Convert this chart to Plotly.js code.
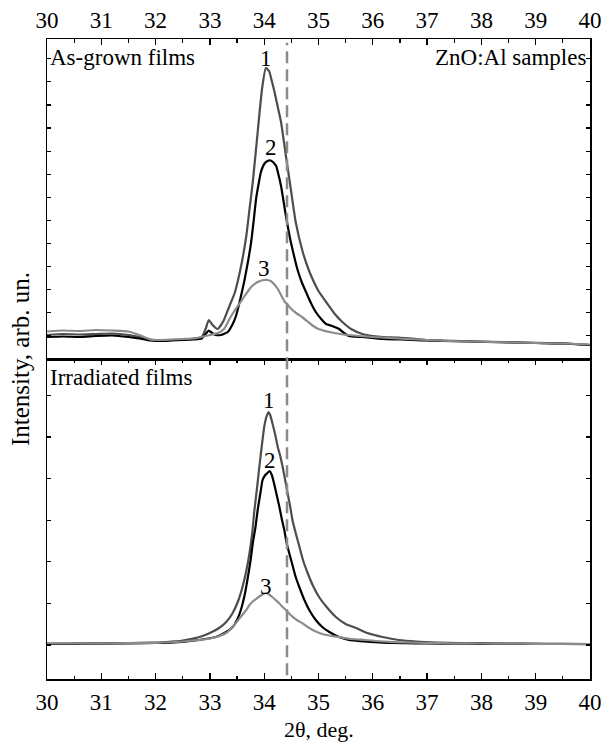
<!DOCTYPE html>
<html>
<head>
<meta charset="utf-8">
<script src="https://cdn.plot.ly/plotly-3.0.1.min.js"></script>
<style>html,body{margin:0;padding:0;background:#fff;}#chart{width:604px;height:742px;}</style>
</head>
<body>
<div id="chart"></div>
<script>
// ---------- data (2θ in degrees, intensity in arbitrary units) ----------
const refLine = 34.42;

// As-grown films (top panel)
const grown1X = [30.0,30.3,30.6,30.9,31.2,31.5,31.7,31.9,32.1,32.3,32.5,32.7,32.85,32.92,32.98,33.05,33.14,33.25,33.36,33.45,33.51,33.6,33.67,33.73,33.79,33.88,33.96,34.03,34.09,34.14,34.19,34.25,34.31,34.4,34.49,34.58,34.71,34.8,34.89,35.0,35.14,35.3,35.44,35.6,35.81,36.0,36.2,36.48,36.8,37.0,37.3,37.6,38.0,38.4,38.8,39.2,39.6,40.0];
const grown1Y = [24,25,24.5,25,25.5,24,22,19.5,18.5,19,19.5,20.5,22,30,39,34,30,38,53,65,77,100,123,150,177,227,270,291,288,278,267,252,237,203,170,137,107,92,80,68,57,45,37,30,25,23,22,21.5,20,19,18.5,18,17.5,17,16.5,16,15.5,14];

const grown2X = [30.0,30.3,30.6,30.9,31.2,31.5,31.7,31.9,32.1,32.3,32.5,32.7,32.85,32.92,32.98,33.04,33.11,33.2,33.33,33.42,33.48,33.56,33.63,33.7,33.76,33.81,33.85,33.9,33.94,34.0,34.06,34.12,34.17,34.22,34.26,34.31,34.35,34.4,34.45,34.49,34.55,34.61,34.69,34.77,34.86,34.95,35.05,35.14,35.25,35.38,35.47,35.56,35.8,36.18,36.5,36.9,37.3,37.7,38.1,38.5,39.0,39.5,40.0];
const grown2Y = [22,22.5,22,23,23.5,22,20.5,18.5,18,18.5,19,19.5,20.5,25,28.5,26,24,24,27,35,43,60,77,97,117,140,160,176,187,195,198,198.5,196.5,193,185,173,160,143,128,117,103,90,77,67,56,47,40,35,33,30,26,23,22,20,19.5,18.5,18,17.5,17,16.5,16,15.5,14];

const grown3X = [30.0,30.3,30.6,30.9,31.2,31.5,31.7,31.9,32.1,32.3,32.5,32.7,32.85,33.0,33.15,33.26,33.36,33.45,33.54,33.64,33.73,33.8,33.88,33.95,34.0,34.06,34.12,34.18,34.25,34.31,34.37,34.45,34.52,34.6,34.71,34.8,34.89,35.0,35.2,35.4,35.56,35.75,36.0,36.3,36.6,37.0,37.4,37.8,38.2,38.6,39.0,39.5,40.0];
const grown3Y = [27.5,28.5,28,29,28.5,27.5,24,19.5,19,19.5,20,20.5,22,24,26,30,40,48,55,63,70,74,77,78.5,79,79,78,75,70,64,58,53,49,45.5,41.5,37.5,33.5,30,27,25,24,23,22,21,20,19,18,17.5,17,16.5,16,15.5,14.5];

// Irradiated films (bottom panel)
const irr1X = [30.0,30.5,31.0,31.5,31.89,32.2,32.5,32.81,33.0,33.17,33.3,33.42,33.52,33.6,33.67,33.73,33.78,33.82,33.87,33.91,33.96,34.0,34.04,34.08,34.11,34.15,34.2,34.25,34.3,34.34,34.39,34.43,34.48,34.52,34.58,34.65,34.72,34.8,34.9,35.01,35.15,35.32,35.5,35.69,35.9,36.18,36.48,36.8,37.2,37.6,38.0,38.5,39.0,39.5,40.0];
const irr1Y = [35.5,35.5,35.8,36,36.3,37,38.5,42,46,51,57,66,78,92,108,126,146,169,192,212,235,252,262,267,264,256,245,232,222,212,198,186,172,159,146,132,118,106,93,82,72,62,55,51,46,42,39,37.5,36.5,36,35.8,35.5,35.3,35.2,35];

const irr2X = [30.0,30.5,31.0,31.5,32.0,32.5,32.8,33.11,33.3,33.42,33.5,33.57,33.64,33.7,33.75,33.79,33.84,33.88,33.93,33.97,34.02,34.06,34.1,34.14,34.18,34.23,34.28,34.32,34.37,34.41,34.46,34.52,34.58,34.66,34.74,34.84,34.95,35.07,35.2,35.38,35.56,35.85,36.18,36.6,37.0,37.5,38.0,38.5,39.0,39.5,40.0];
const irr2Y = [35,35.2,35.4,35.6,36,37.2,39,42,47,52,59,69,84,102,119,136,152,169,186,199,204,206,208,204,196,184,172,161,149,137,126,114,102,90,79,68,59,52,47,42,39,37.5,36.3,35.8,35.5,35.3,35.2,35.1,35,35,34.8];

const irr3X = [30.0,30.5,31.0,31.5,32.0,32.5,32.8,33.0,33.15,33.3,33.4,33.48,33.58,33.67,33.73,33.79,33.85,33.91,33.97,34.03,34.09,34.15,34.21,34.28,34.34,34.4,34.46,34.52,34.6,34.71,34.83,34.95,35.1,35.32,35.6,35.87,36.2,36.6,37.0,37.5,38.0,38.5,39.0,39.5,40.0];
const irr3Y = [35.5,35.5,35.7,35.8,36.2,37.5,39,40.5,42.5,46,51,56,63,69,74,77.5,80,82.5,84.5,86,84.5,82,79,75.5,72,69,65.5,62.3,59,55.5,51,47.5,44.5,42.3,40,39,37.5,36.5,36,35.7,35.5,35.3,35.2,35.1,35];

const xTicks = [30,31,32,33,34,35,36,37,38,39,40];
const curveLabels = ['1','2','3'];

// ---------- styling ----------
const FONT = '"Liberation Serif", serif';
const FS = 23;
const colors = ['#4d4d4d', '#000000', '#8c8c8c'];
const LW = 2.2;

function tr(x, y, i, xa, ya) {
  return {x: x, y: y, type: 'scatter', mode: 'lines', xaxis: xa, yaxis: ya,
    line: {color: colors[i], width: LW, shape: 'spline', smoothing: 0.5},
    showlegend: false, hoverinfo: 'skip'};
}

const traces = [
  tr(grown1X, grown1Y, 0, 'x2', 'y2'),
  tr(grown2X, grown2Y, 1, 'x2', 'y2'),
  tr(grown3X, grown3Y, 2, 'x2', 'y2'),
  tr(irr1X, irr1Y, 0, 'x', 'y'),
  tr(irr2X, irr2Y, 1, 'x', 'y'),
  tr(irr3X, irr3Y, 2, 'x', 'y')
];

function peakLabel(xs, ys, txt, xa, ya, shift) {
  let m = 0;
  for (let i = 1; i < ys.length; i++) if (ys[i] > ys[m]) m = i;
  return {x: xs[m], y: ys[m], xref: xa, yref: ya, text: txt, showarrow: false,
    yanchor: 'middle', xanchor: 'center', yshift: shift, font: {family: FONT, size: FS, color: '#000'}};
}

const annotations = [
  peakLabel(grown1X, grown1Y, curveLabels[0], 'x2', 'y2', 10),
  peakLabel(grown2X, grown2Y, curveLabels[1], 'x2', 'y2', 13),
  peakLabel(grown3X, grown3Y, curveLabels[2], 'x2', 'y2', 12),
  peakLabel(irr1X, irr1Y, curveLabels[0], 'x', 'y', 12),
  peakLabel(irr2X, irr2Y, curveLabels[1], 'x', 'y', 11),
  peakLabel(irr3X, irr3Y, curveLabels[2], 'x', 'y', 7),
  {xref: 'paper', yref: 'paper', x: 0, y: 1, xanchor: 'left', yanchor: 'middle', xshift: 1, yshift: -18,
   text: 'As-grown films', showarrow: false, font: {family: FONT, size: FS, color: '#000'}},
  {xref: 'paper', yref: 'paper', x: 1, y: 1, xanchor: 'right', yanchor: 'middle', xshift: -2, yshift: -18,
   text: 'ZnO:Al samples', showarrow: false, font: {family: FONT, size: FS, color: '#000'}},
  {xref: 'paper', yref: 'paper', x: 0, y: 0.5, xanchor: 'left', yanchor: 'middle', xshift: 1, yshift: -18,
   text: 'Irradiated films', showarrow: false, font: {family: FONT, size: FS, color: '#000'}},
  {xref: 'paper', yref: 'paper', x: 0, y: 0.5, xanchor: 'center', yanchor: 'middle', xshift: -27, yshift: 0,
   text: 'Intensity, arb. un.', textangle: -90, showarrow: false, font: {family: FONT, size: 25, color: '#000'}},
  {xref: 'paper', yref: 'paper', x: 0.5, y: 0, xanchor: 'center', yanchor: 'middle', yshift: -50,
   text: '2θ, deg.', showarrow: false, font: {family: FONT, size: 22, color: '#000'}}
];

const xCommon = {
  range: [30, 40], tickmode: 'array', tickvals: xTicks, ticktext: xTicks.map(String),
  ticks: 'inside', ticklen: 6, tickwidth: 1.3, tickcolor: '#000',
  minor: {dtick: 0.5, ticks: 'inside', ticklen: 3.5, tickwidth: 1.3, tickcolor: '#000'},
  showline: true, linecolor: '#000', linewidth: 1.5, showgrid: false, zeroline: false,
  tickfont: {family: FONT, size: FS, color: '#000'}
};
const yCommon = {
  ticks: 'inside', ticklen: 4, tickwidth: 1.2, tickcolor: '#000', showticklabels: false,
  showline: true, linecolor: '#000', linewidth: 1.5, mirror: 'ticks',
  showgrid: false, zeroline: false
};

const layout = {
  width: 604, height: 742,
  margin: {l: 47, r: 14, t: 39, b: 63},
  paper_bgcolor: '#fff', plot_bgcolor: '#fff',
  font: {family: FONT, size: FS, color: '#000'},
  xaxis: Object.assign({}, xCommon, {anchor: 'y', side: 'bottom', mirror: 'ticks', ticklabelstandoff: 2}),
  xaxis2: Object.assign({}, xCommon, {anchor: 'y2', side: 'top', mirror: true, matches: 'x'}),
  yaxis: Object.assign({}, yCommon, {domain: [0, 0.5], range: [0, 320], tick0: 34, dtick: 41.6}),
  yaxis2: Object.assign({}, yCommon, {domain: [0.5, 1], range: [0, 320], tick0: 0, dtick: 23.1}),
  shapes: [
    {type: 'line', xref: 'x', yref: 'paper', x0: refLine, x1: refLine, y0: 0.006, y1: 0.994,
     line: {color: '#8a8a8a', width: 2.5, dash: '12px,6px'}}
  ],
  annotations: annotations
};

Plotly.newPlot('chart', traces, layout, {displayModeBar: false, staticPlot: true});
</script>
</body>
</html>
